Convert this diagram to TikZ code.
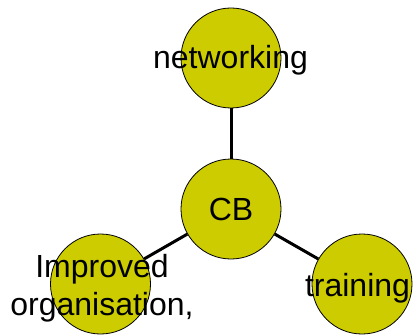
\documentclass[tikz,border=0pt]{standalone}
\usepackage{fontspec}
\setmainfont{Liberation Sans}
\usetikzlibrary{positioning}
\definecolor{cbyellow}{RGB}{204,204,0}
\tikzstyle{topic} = [
    circle, minimum size=100pt, inner sep=0pt, draw=black,
    fill=cbyellow, line width=0.8pt
]
\tikzstyle{word} = [
    font=\fontsize{32}{38}\selectfont, inner sep=0pt, anchor=base,
    align=center
]
\tikzstyle{link} = [line width=3pt]

\begin{document}
\begin{tikzpicture}[x=1pt, y=-1pt]
        \useasboundingbox (0,0) rectangle (414,334);
        \node (cb) [topic] at (231,209) {};
        \node (net) [topic] at (231,58) {};
        \node (org) [topic] at (100.5,284) {};
        \node (train) [topic] at (362,284) {};

        \draw [link] (cb) -- (net);
        \draw [link] (cb) -- (org);
        \draw [link] (cb) -- (train);

        \node (net_txt) [word] at (230.5,69) {networking};
        \node (cb_txt) [word] at (231,220) {CB};
        \node (train_txt) [word] at (357.5,296) {training};
        % base of a two-line node sits on its last line
        \node (org_txt) [word] at (102,315) {Improved\\organisation,};
    \end{tikzpicture}
\end{document}
